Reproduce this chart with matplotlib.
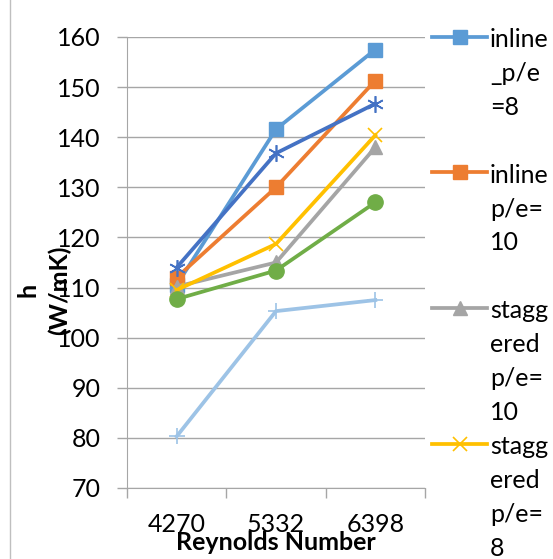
import matplotlib.pyplot as plt
from matplotlib.patches import Rectangle

plt.rcParams['font.family'] = ['Lato', 'DejaVu Sans']

reynolds = ['4270', '5332', '6398']
inline_pe8 = [110.5, 141.6, 157.5]
inline_pe10 = [112.0, 130.0, 151.3]
staggered_pe10 = [110.2, 115.0, 138.0]
staggered_pe8 = [109.5, 118.7, 140.4]
series5 = [107.7, 113.4, 127.0]
series6 = [114.0, 136.8, 146.7]
series7 = [80.3, 105.3, 107.5]

labels = ['inline\n_p/e\n=8\n', 'inline\np/e=\n10\n', 'stagg\nered\np/e=\n10', 'stagg\nered\np/e=\n8']

fs = 18
fig = plt.figure(figsize=(5.53, 5.59), dpi=100)
ax = fig.add_axes([127 / 553, 1 - 488 / 559, 298 / 553, 451 / 559])

x = range(len(reynolds))
lw = 2.7
h1, = ax.plot(x, inline_pe8, color='#5B9BD5', lw=lw, marker='s', ms=10)
h2, = ax.plot(x, inline_pe10, color='#ED7D31', lw=lw, marker='s', ms=10)
h3, = ax.plot(x, staggered_pe10, color='#A5A5A5', lw=lw, marker='^', ms=10)
h4, = ax.plot(x, staggered_pe8, color='#FFC000', lw=lw, marker='x', ms=10, mew=1.2)
ax.plot(x, series5, color='#70AD47', lw=lw, marker='o', ms=11)
ax.plot(x, series6, color='#4472C4', lw=lw, marker=(6, 2, 0), ms=12, mew=1.2)
ax.plot(x, series7, color='#9DC3E6', lw=lw, marker='+', ms=12, mew=1.2)

ax.set_xlim(-0.5, 2.5)
ax.set_ylim(70, 160)
ax.set_yticks(range(70, 161, 10))
ax.set_xticks(list(x))
ax.set_xticklabels(reynolds)
ax.set_xticks([-0.5, 0.5, 1.5, 2.5], minor=True)
ax.tick_params(axis='x', which='major', length=0, pad=18, labelsize=fs)
ax.tick_params(axis='x', which='minor', length=7, color='#A6A6A6', width=1)
ax.tick_params(axis='y', length=7, color='#A6A6A6', width=1, pad=12, labelsize=fs)
ax.grid(axis='y', color='#A6A6A6', lw=1)
ax.set_axisbelow(True)
for s in ['top', 'right']:
    ax.spines[s].set_visible(False)
for s in ['left', 'bottom']:
    ax.spines[s].set_color('#A6A6A6')

fig.text(276 / 553, 1 - 542 / 559, 'Reynolds Number', ha='center', va='center',
         fontsize=fs, fontweight='bold')
fig.text(44 / 553, 1 - 290 / 559, 'h\n(W/mK)', rotation=90, ha='center', va='center',
         fontsize=fs, fontweight='bold', linespacing=1.45, multialignment='center')

leg = fig.legend([h1, h2, h3, h4], labels, loc='upper left',
                 bbox_to_anchor=(432 / 553, 1 - 28 / 559), frameon=False,
                 fontsize=fs, borderpad=0, borderaxespad=0, handlelength=2.2,
                 handletextpad=0.12, labelspacing=0.45)
for t in leg.get_texts():
    t.set_linespacing(1.57)
for col in leg._legend_handle_box.get_children():
    for row in col.get_children():
        row.align = 'top'

fig.patches.append(Rectangle((10 / 553, -0.2), 1.2, 1.2 + 1 - 8 / 559,
                             transform=fig.transFigure, fill=False,
                             edgecolor='#BFBFBF', lw=1))

fig.savefig('out.png', dpi=100)
